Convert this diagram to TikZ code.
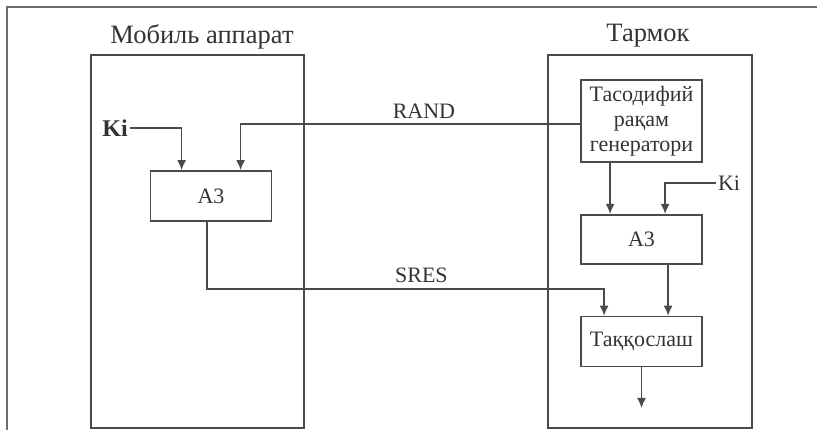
\documentclass[tikz,border=0pt]{standalone}
\usepackage{fontspec}
\setmainfont{Liberation Serif}
\usepackage{xcolor}
\usetikzlibrary{arrows.meta,positioning,calc}
\definecolor{cInk}{HTML}{4A4A4A}
\definecolor{cText}{HTML}{333333}
\tikzset{
  frame/.style  = {draw=cInk, line width=1.4pt, inner sep=0pt},
  box/.style    = {draw=cInk, line width=1.8pt, align=center, inner sep=0pt,
                   minimum width=121pt, text=cText,
                   font=\fontsize{22}{25}\selectfont},
  title/.style  = {text=cText, inner sep=0pt, anchor=base,
                   font=\fontsize{26.5}{28}\selectfont},
  lbl/.style    = {text=cText, inner sep=2pt,
                   font=\fontsize{22}{24}\selectfont},
  flow/.style   = {-{Latex[length=10pt,width=9pt]}, draw=cInk, line width=1.5pt},
}
\begin{document}
\begin{tikzpicture}[x=1pt, y=-1pt]
  \useasboundingbox (0,0) rectangle (817,430);
  % outer frame
  \draw[cInk!80, line width=1.2pt] (7,430) -- (7,7) -- (817,7);
  % mobile side
  \node[frame, minimum width=213pt, minimum height=373pt] (mob) at (197.5,241.5) {};
  \node[title] (mobtitle) at (202,44) {Мобиль аппарат};
  \node[box, minimum height=50pt] (a3mob) at (211,196) {A3};
  \node[lbl, font=\fontsize{24}{26}\selectfont\bfseries] (kimob) at (115,128) {Ki};
  % network side
  \node[frame, minimum width=204pt, minimum height=373pt] (net) at (650,241.5) {};
  \node[title] (nettitle) at (648,42) {Тармок};
  \node[box, minimum height=82pt] (gen) at (641.5,121)
    {Тасодифий\\ рақам\\ генератори};
  \node[box, minimum height=49pt, below=51pt of gen] (a3net) {A3};
  \node[box, minimum height=50pt, below=51pt of a3net] (cmp) {Таққослаш};
  \node[lbl] (kinet) at (729,183) {Ki};
  \coordinate (out) at (641.5,408);
  % connectors
  \draw[flow] (kimob.east) -| ([xshift=32pt]a3mob.north west);
  \draw[flow] ([yshift=-3pt]gen.west) -| ([xshift=91pt]a3mob.north west)
    node[lbl, pos=0.23, above=3pt] {RAND};
  \draw[flow] ([xshift=-4pt]a3mob.south) -- ++(0,67)
    -| ([xshift=24pt]cmp.north west) node[lbl, pos=0.27, above=3pt] {SRES};
  \draw[flow] ([xshift=30pt]gen.south west) -- ([xshift=30pt]a3net.north west);
  \draw[flow] (kinet.west) -| ([xshift=85pt]a3net.north west);
  \draw[flow] ([xshift=88pt]a3net.south west) -- ([xshift=88pt]cmp.north west);
  \draw[flow] (cmp.south) -- (out);
\end{tikzpicture}
\end{document}
